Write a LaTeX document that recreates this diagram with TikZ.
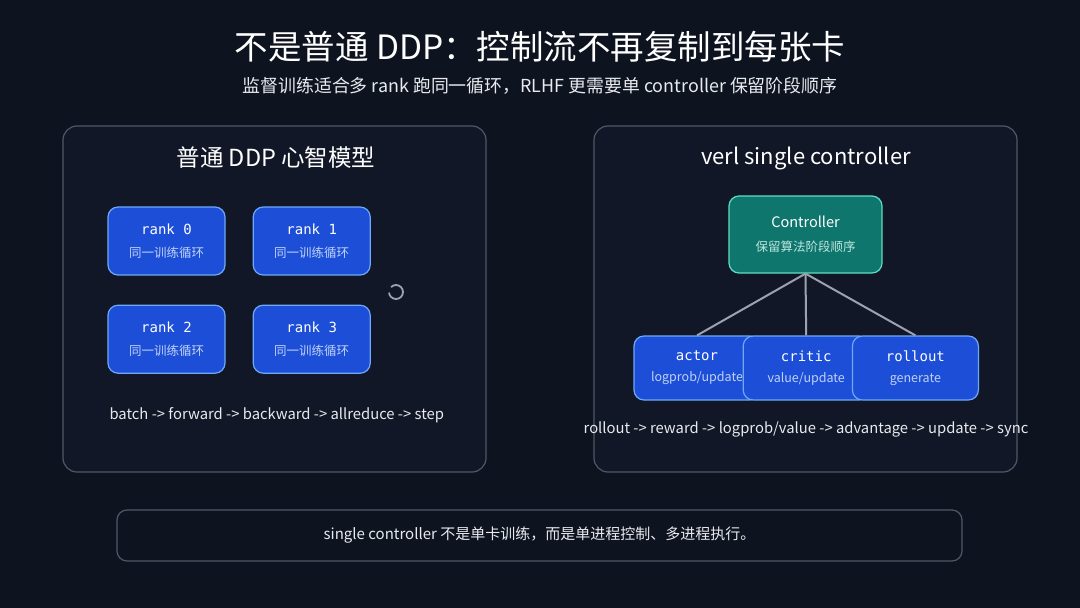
\documentclass[tikz,border=0pt]{standalone}
\usepackage{fontspec}
\setmainfont{Noto Sans CJK SC}
\newfontfamily\monof{DejaVu Sans Mono}
\usetikzlibrary{positioning}

\definecolor{bgdark}{HTML}{0E1320}
\definecolor{panelfill}{HTML}{111726}
\definecolor{panelline}{HTML}{505766}
\definecolor{bluefill}{HTML}{1D4ED8}
\definecolor{blueline}{HTML}{6EA8F7}
\definecolor{bluesub}{HTML}{BFD3F5}
\definecolor{tealfill}{HTML}{0F766E}
\definecolor{tealline}{HTML}{5EDCC4}
\definecolor{tealsub}{HTML}{BCE6DF}
\definecolor{linkgrey}{HTML}{9CA3AF}
\definecolor{lighttext}{HTML}{E8EAEE}

\begin{document}
\begin{tikzpicture}[
  x=1pt, y=-1pt,
  node distance=29pt and 27pt,
  panel/.style={draw=panelline, line width=1.2pt, rounded corners=14pt,
    fill=panelfill, minimum width=423pt, minimum height=346pt},
  rankbox/.style={draw=blueline, line width=1.2pt, rounded corners=10pt,
    fill=bluefill, align=center, minimum width=117pt, minimum height=68pt,
    text=white},
  workbox/.style={draw=blueline, line width=1.2pt, rounded corners=10pt,
    fill=bluefill, align=center, minimum width=126pt, minimum height=64pt,
    text=white},
  ctrlbox/.style={draw=tealline, line width=1.2pt, rounded corners=10pt,
    fill=tealfill, align=center, minimum width=153pt, minimum height=77pt,
    text=white},
  note/.style={draw=panelline, line width=1.2pt, rounded corners=10pt,
    fill=bgdark, minimum width=845pt, minimum height=51pt, text=lighttext},
  flow/.style={text=lighttext, font=\fontsize{14.8}{17}\selectfont},
  link/.style={draw=linkgrey, line width=2pt}
]
\useasboundingbox[fill=bgdark] (0,0) rectangle (1080,608);

% heading
\node[text=white, font=\fontsize{33.5}{38}\selectfont] (title) at (540,47)
  {不是普通 DDP：控制流不再复制到每张卡};
\node[text=lighttext, font=\fontsize{17.9}{21}\selectfont] (subtitle) at (540,86)
  {监督训练适合多 rank 跑同一循环，RLHF 更需要单 controller 保留阶段顺序};

% left panel: plain DDP
\node[panel] (ddp) at (274.5,299) {};
\node[text=white, font=\fontsize{23.5}{27}\selectfont] (ddptitle) at (276,158)
  {普通 DDP 心智模型};
\node[rankbox] (rank0) at (166.5,241)
  {{\monof\fontsize{14}{16}\selectfont rank 0}\\[11pt]
   {\color{bluesub}\fontsize{12.5}{14}\selectfont 同一训练循环}};
\node[rankbox, right=of rank0] (rank1)
  {{\monof\fontsize{14}{16}\selectfont rank 1}\\[11pt]
   {\color{bluesub}\fontsize{12.5}{14}\selectfont 同一训练循环}};
\node[rankbox, below=of rank0] (rank2)
  {{\monof\fontsize{14}{16}\selectfont rank 2}\\[11pt]
   {\color{bluesub}\fontsize{12.5}{14}\selectfont 同一训练循环}};
\node[rankbox, right=of rank2] (rank3)
  {{\monof\fontsize{14}{16}\selectfont rank 3}\\[11pt]
   {\color{bluesub}\fontsize{12.5}{14}\selectfont 同一训练循环}};
\draw[linkgrey, line width=1.8pt]
  ([shift={(225:7)}]396,292) arc[start angle=225, end angle=535, radius=7];
\node[flow, anchor=west] (ddpflow) at (106,415)
  {batch -> forward -> backward -> allreduce -> step};

% right panel: verl single controller
\node[panel] (verl) at (805.5,299) {};
\node[text=white, font=\fontsize{22}{26}\selectfont] (verltitle) at (806,158)
  {verl single controller};
\node[ctrlbox] (ctrl) at (805.5,234.5)
  {\fontsize{14.5}{16}\selectfont Controller\\[12pt]
   {\color{tealsub}\fontsize{12.5}{14}\selectfont 保留算法阶段顺序}};
\node[workbox] (actor) at (697,368)
  {{\monof\fontsize{14}{16}\selectfont actor}\\[9pt]
   {\color{bluesub}\fontsize{12.5}{14}\selectfont logprob/update}};
\node[workbox, right=-18pt of actor] (critic)
  {{\monof\fontsize{14}{16}\selectfont critic}\\[9pt]
   {\color{bluesub}\fontsize{12.5}{14}\selectfont value/update}};
\node[workbox, right=-18pt of critic] (rollout)
  {{\monof\fontsize{14}{16}\selectfont rollout}\\[9pt]
   {\color{bluesub}\fontsize{12.5}{14}\selectfont generate}};
\draw[link] (ctrl.south) -- (actor.north);
\draw[link] (ctrl.south) -- (critic.north);
\draw[link] (ctrl.south) -- (rollout.north);
\node[flow] (verlflow) at (806,429)
  {rollout -> reward -> logprob/value -> advantage -> update -> sync};

% bottom note
\node[note, font=\fontsize{15}{17}\selectfont] (summary) at (539.5,535.5)
  {single controller 不是单卡训练，而是单进程控制、多进程执行。};
\end{tikzpicture}
\end{document}
